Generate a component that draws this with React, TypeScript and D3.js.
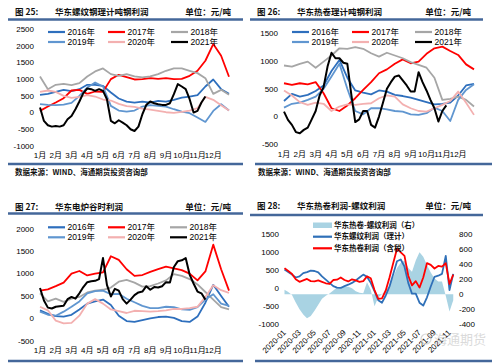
import React from 'react';
import * as d3 from 'd3';

// ---------- shared labels ----------
const MONTHS = ['1月', '2月', '3月', '4月', '5月', '6月', '7月', '8月', '9月', '10月', '11月', '12月'];
const YEARS = ['2016年', '2017年', '2018年', '2019年', '2020年', '2021年'];
const YEAR_COLORS = ['#2e6fbd', '#ff0000', '#a6a6a6', '#6096d0', '#f3b0b0', '#000000'];
const HALF_MONTH = d3.range(25).map((i) => i * 0.5); // month index for years 2016-2020
const QUARTER_MONTH = d3.range(43).map((i) => i * 0.25); // month index for 2021

// ---------- 图25 华东螺纹钢理计吨钢利润 ----------
const P1_2016 = [530, 560, 620, 680, 640, 700, 830, 830, 800, 600, 420, 330, 300, 330, 300, 350, 330, 380, 450, 480, 520, 780, 990, 700, 560];
const P1_2017 = [50, 180, 300, 430, 660, 680, 560, 630, 620, 1000, 1130, 1060, 990, 1000, 1030, 1010, 1030, 1000, 1010, 1100, 1250, 1550, 2050, 1700, 1070];
const P1_2018 = [1080, 700, 830, 860, 820, 880, 1080, 1230, 1320, 1150, 1100, 1150, 1080, 1050, 1080, 1150, 1250, 1320, 1320, 1250, 1180, 1030, 560, 680, 530];
const P1_2019 = [250, 230, 220, 240, 290, 500, 750, 900, 780, 200, 60, 30, 60, 180, 220, 200, 180, 100, 30, -20, -150, -280, 50, 250, 60];
const P1_2020 = [620, 660, 620, 500, 440, 470, 520, 480, 390, 360, 260, 190, 170, 120, 90, 50, 10, -10, 20, 60, 130, 470, 380, 220, 60];
const P1_2021 = [150, -250, -380, -420, -400, -420, -380, -200, -100, 100, 330, 580, 720, 700, 650, 700, 650, 400, -250, -320, -230, -300, -380, -500, -550, -420, -50, 230, 330, 280, 250, 230, 230, 280, 550, 850, 780, 700, 400, 0, 50, 300, 480];
const P1_TICKS = [-1000, -500, 0, 500, 1000, 1500, 2000, 2500];

// ---------- 图26 华东热卷理计吨钢利润 ----------
const P2_2016 = [280, 410, 360, 390, 460, 560, 820, 1020, 700, 470, 430, 400, 470, 450, 390, 370, 340, 300, 260, 220, 230, 250, 380, 560, 590];
const P2_2017 = [600, 570, 600, 580, 620, 420, 150, 100, 200, 330, 480, 620, 780, 850, 950, 1030, 960, 990, 1130, 1230, 1260, 1180, 1110, 940, 850];
const P2_2018 = [920, 900, 950, 990, 880, 990, 1100, 1230, 1220, 1250, 1220, 1140, 1080, 1150, 1100, 1050, 980, 930, 880, 700, 300, 320, 360, 300, 180];
const P2_2019 = [160, 230, 250, 300, 360, 500, 720, 950, 500, 100, 40, 150, 150, 130, 100, 90, 40, 30, 60, 160, 100, -80, 300, 480, 580];
const P2_2020 = [470, 380, 260, 210, 250, 230, 100, 180, 220, 210, 230, 240, 330, 380, 360, 220, 150, 100, 90, 150, 210, 280, 450, 250, 30];
const P2_2021 = [90, -60, -150, -280, -300, -240, -200, -50, 100, 380, 530, 900, 1150, 1050, 1050, 970, 950, 400, -100, -50, 100, 100, -150, -200, 0, 250, 500, 620, 720, 740, 650, 560, 450, 450, 800, 620, 470, 300, 150, -90, 100, 200];
const P2_TICKS = [-500, 0, 500, 1000, 1500];

// ---------- 图27 华东电炉谷时利润 ----------
const P3_2016 = [180, 100, 50, 40, 80, 200, 330, 380, 420, 300, 60, -60, -80, -40, 0, 30, 40, 10, -60, -80, 40, 350, 750, 500, 260];
const P3_2017 = [620, 650, 720, 800, 1000, 1060, 960, 1000, 1030, 1390, 1310, 1100, 950, 970, 1040, 1100, 1160, 1120, 1080, 1000, 850, 1050, 1650, 1100, 620];
const P3_2018 = [560, 380, 440, 370, 440, 480, 580, 620, 640, 690, 820, 860, 800, 710, 720, 780, 850, 990, 950, 880, 760, 590, 420, 250, 200];
const P3_2019 = [150, 80, 60, 150, 260, 380, 560, 610, 620, 540, 550, 440, 360, 280, 230, 230, 260, 250, 200, 190, 250, 420, 540, 330, 280];
const P3_2020 = [260, 180, -50, -110, -100, 60, 330, 430, 330, 200, 160, 120, 170, 160, 150, 160, 180, 210, 210, 230, 260, 480, 740, 630, 570];
const P3_2021 = [680, 400, 240, 220, 260, 270, 280, 430, 480, 440, 560, 700, 810, 830, 840, 880, 1350, 750, 490, 660, 620, 430, 330, 420, 520, 580, 600, 720, 640, 700, 690, 720, 810, 800, 1150, 1280, 1300, 1350, 980, 780, 600, 560, 420];
const P3_TICKS = [-500, 0, 500, 1000, 1500, 2000];

// ---------- 图28 华东热卷利润-螺纹利润 (2020-01 起, 半月) ----------
const P4_MONTHS = d3.range(46).map((i) => i * 0.5); // months since 2020-01
const P4_DATE_LABELS = ['2020-01', '2020-03', '2020-05', '2020-07', '2020-09', '2020-11', '2021-01', '2021-03', '2021-05', '2021-07', '2021-09', '2021-11'];
const P4_HC = [560, 480, 400, 250, 180, 220, 260, 200, 190, 220, 180, 140, 120, 230, 240, 300, 230, 190, 250, 220, 180, 200, 330, 280, -50, -290, -280, -60, 300, 700, 1100, 1000, 900, 350, 80, 200, 20, 300, 700, 650, 550, 620, 600, 700, 120, 380];
const P4_REBAR = [520, 450, 380, 300, 330, 420, 450, 490, 480, 440, 330, 240, 150, 60, 20, 10, 60, 100, 150, 220, 300, 380, 320, 150, -80, -330, -400, -200, 50, 400, 750, 800, 600, 150, -150, -150, -400, -480, -250, 50, 320, 350, 400, 900, -50, 400];
const P4_SPREAD = [60, 30, -10, -110, -200, -270, -320, -290, -220, -140, -60, -20, 10, 50, 90, 100, 105, 100, 80, 40, 20, 15, 160, 60, -160, -40, 0, 50, 120, 230, 350, 420, 450, 350, 300, 450, 560, 500, 390, 290, 210, 170, 170, -20, -230, -80];
const P4_LEFT_TICKS = [-1000, -500, 0, 500, 1000, 1500];
const P4_RIGHT_TICKS = [-400, -200, 0, 200, 400, 600, 800];

const RULE = '#44679a';
const CJK = "'Noto Sans CJK SC', sans-serif";
const NUM = "'Liberation Sans', Arial, 'Noto Sans CJK SC', sans-serif";

type SeasonalCfg = {
  xr: [number, number];
  yd: [number, number];
  yr: [number, number];
  ticks: number[];
  yLabelX: number;
  xLabelY: number;
  legendCols: number[];
  legendRows: number[];
  series: number[][];
};

function Seasonal({ cfg }: { cfg: SeasonalCfg }) {
  const x = d3.scaleLinear().domain([0, 12]).range(cfg.xr);
  const y = d3.scaleLinear().domain(cfg.yd).range(cfg.yr);
  const line = d3
    .line<[number, number]>()
    .x((d) => x(d[0]))
    .y((d) => y(d[1]));
  return (
    <g>
      {cfg.ticks.map((t) => (
        <text key={t} x={cfg.yLabelX} y={y(t)} dy="0.35em" textAnchor="end" fontSize={8} fontFamily={NUM} fill="#000">
          {t}
        </text>
      ))}
      {MONTHS.map((m, i) => (
        <text key={m} x={x(i)} y={cfg.xLabelY} dy="0.35em" textAnchor="middle" fontSize={8} fontFamily={NUM} fill="#000">
          {m}
        </text>
      ))}
      {cfg.series.map((vals, si) => {
        const grid = si === 5 ? QUARTER_MONTH : HALF_MONTH;
        const pts = vals.map((v, i) => [grid[i], v] as [number, number]);
        return (
          <path key={si} d={line(pts) || ''} fill="none" stroke={YEAR_COLORS[si]} strokeWidth={si === 5 ? 2 : 1.8} strokeLinejoin="round" />
        );
      })}
      {YEARS.map((yr, i) => {
        const cx = cfg.legendCols[i % 3];
        const cy = cfg.legendRows[Math.floor(i / 3)];
        return (
          <g key={yr}>
            <line x1={cx} x2={cx + 17} y1={cy} y2={cy} stroke={YEAR_COLORS[i]} strokeWidth={2.2} />
            <text x={cx + 19.5} y={cy} dy="0.35em" fontSize={8.5} fontFamily={NUM} fill="#000">
              {yr}
            </text>
          </g>
        );
      })}
    </g>
  );
}

function Header({ x0, x1, y, fig, title, ruleY }: { x0: number; x1: number; y: number; fig: string; title: string; ruleY: number }) {
  return (
    <g fontFamily={CJK} fontWeight={700} fontSize={8.5} fill="#111">
      <text x={x0 + 7} y={y}>{fig}</text>
      <text x={x0 + 47} y={y}>{title}</text>
      <text x={x1 - 12} y={y} textAnchor="end">单位：元/吨</text>
      <line x1={x0} x2={x1} y1={ruleY} y2={ruleY} stroke={RULE} strokeWidth={2.5} />
    </g>
  );
}

function Panel4() {
  const x = d3.scaleLinear().domain([0, 22.5]).range([284.5, 453.25]);
  const yL = d3.scaleLinear().domain([-1000, 1500]).range([324.3, 234.3]);
  const yR = d3.scaleLinear().domain([-400, 800]).range([324.3, 234.3]);
  const area = d3
    .area<number>()
    .x((_, i) => x(P4_MONTHS[i]))
    .y0(() => yR(0))
    .y1((d) => yR(d));
  const lineL = d3
    .line<number>()
    .x((_, i) => x(P4_MONTHS[i]))
    .y((d) => yL(d));
  return (
    <g>
      <path d={area(P4_SPREAD) || ''} fill="#a9d3e3" />
      <path d={lineL(P4_REBAR) || ''} fill="none" stroke="#2f70b8" strokeWidth={1.8} strokeLinejoin="round" />
      <path d={lineL(P4_HC) || ''} fill="none" stroke="#ff0000" strokeWidth={1.8} strokeLinejoin="round" />
      {P4_LEFT_TICKS.map((t) => (
        <text key={t} x={279} y={yL(t)} dy="0.35em" textAnchor="end" fontSize={8} fontFamily={NUM}>
          {t}
        </text>
      ))}
      {P4_RIGHT_TICKS.map((t) => (
        <text key={t} x={459} y={yR(t)} dy="0.35em" textAnchor="start" fontSize={8} fontFamily={NUM}>
          {t}
        </text>
      ))}
      {P4_DATE_LABELS.map((lab, i) => (
        <text
          key={lab}
          transform={`translate(${x(i * 2)},${331}) rotate(-45)`}
          dy="0.35em"
          textAnchor="end"
          fontSize={8}
          fontFamily={NUM}
        >
          {lab}
        </text>
      ))}
      <g fontFamily={CJK} fontWeight={700} fontSize={7.5} fill="#111">
        <rect x={313} y={222.5} width={19} height={5.5} fill="#a9d3e3" />
        <text x={334} y={225.2} dy="0.35em">华东热卷-螺纹利润（右）</text>
        <line x1={313} x2={332} y1={236.7} y2={236.7} stroke="#2f70b8" strokeWidth={2.2} />
        <text x={334} y={236.7} dy="0.35em">华东螺纹利润（理计）</text>
        <line x1={313} x2={332} y1={248.3} y2={248.3} stroke="#ff0000" strokeWidth={2.2} />
        <text x={334} y={248.3} dy="0.35em">华东热卷利润（含税）</text>
      </g>
      <g opacity={0.55}>
        <circle cx={426} cy={339} r={5} fill="none" stroke="#b5b5b5" strokeWidth={1.2} />
        <text x={434} y={344} fontSize={13} fontFamily={CJK} fill="#bdbdbd">海通期货</text>
      </g>
    </g>
  );
}

export default function App() {
  const p1: SeasonalCfg = {
    xr: [40, 229],
    yd: [-1000, 2500],
    yr: [146, 29],
    ticks: P1_TICKS,
    yLabelX: 34,
    xLabelY: 155,
    legendCols: [48, 108, 171],
    legendRows: [32, 42],
    series: [P1_2016, P1_2017, P1_2018, P1_2019, P1_2020, P1_2021],
  };
  const p2: SeasonalCfg = {
    xr: [284, 474],
    yd: [-500, 1500],
    yr: [144.3, 33.3],
    ticks: P2_TICKS,
    yLabelX: 278,
    xLabelY: 154,
    legendCols: [292, 352, 415],
    legendRows: [32, 42],
    series: [P2_2016, P2_2017, P2_2018, P2_2019, P2_2020, P2_2021],
  };
  const p3: SeasonalCfg = {
    xr: [40, 229],
    yd: [-500, 2000],
    yr: [340.7, 229],
    ticks: P3_TICKS,
    yLabelX: 34,
    xLabelY: 350,
    legendCols: [48, 108, 170],
    legendRows: [227.3, 237.3],
    series: [P3_2016, P3_2017, P3_2018, P3_2019, P3_2020, P3_2021],
  };
  return (
    <svg width={500} height={363} style={{ position: 'absolute', left: 0, top: 0 }} xmlns="http://www.w3.org/2000/svg">
      <rect width={500} height={363} fill="#fff" />
      <Header x0={8} x1={243} y={15} fig="图 25:" title="华东螺纹钢理计吨钢利润" ruleY={19.5} />
      <Header x0={250} x1={483} y={15} fig="图 26:" title="华东热卷理计吨钢利润" ruleY={19.5} />
      <Header x0={8} x1={243} y={210} fig="图 27:" title="华东电炉谷时利润" ruleY={213.5} />
      <Header x0={250} x1={483} y={209} fig="图 28:" title="华东热卷利润-螺纹利润" ruleY={215} />
      <Seasonal cfg={p1} />
      <Seasonal cfg={p2} />
      <Seasonal cfg={p3} />
      <Panel4 />
      <line x1={8} x2={243} y1={164} y2={164} stroke={RULE} strokeWidth={2.5} />
      <line x1={255} x2={492} y1={164} y2={164} stroke={RULE} strokeWidth={2.5} />
      <line x1={8} x2={243} y1={361} y2={361} stroke={RULE} strokeWidth={2.5} />
      <line x1={255} x2={492} y1={361} y2={361} stroke={RULE} strokeWidth={2.5} />
      <g fontFamily={CJK} fontWeight={700} fontSize={7.5} fill="#111">
        <text x={15} y={175}>数据来源：WIND、海通期货投资咨询部</text>
        <text x={258} y={175}>数据来源：WIND、海通期货投资咨询部</text>
      </g>
    </svg>
  );
}
